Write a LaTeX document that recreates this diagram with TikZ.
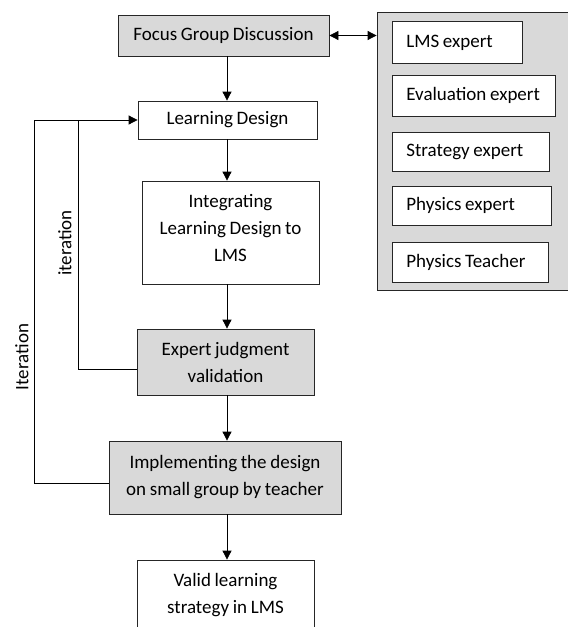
\documentclass[tikz,border=0pt]{standalone}
\usepackage{fontspec}
\setmainfont{Carlito}[WordSpace=0.85]
\usetikzlibrary{arrows.meta}

\begin{document}
\begin{tikzpicture}[x=1pt,y=-1pt,
  >={Triangle[length=9pt,width=9pt]},
  box/.style={draw=black!85,line width=0.8pt,fill=white,align=flush center,inner sep=0pt,
    font=\fontsize{19}{27}\selectfont},
  shaded/.style={box,fill=black!15},
  member/.style={box,anchor=west,align=flush left,inner xsep=0pt,
    execute at begin node={\hspace*{14pt}}}]
\clip (0,0) rectangle (568,627);
% main flow
\node[shaded,minimum width=211,minimum height=41] (fgd) at (223.5,35.5) {Focus Group Discussion};
\node[box,minimum width=179,minimum height=38] (ld) at (227.5,120) {Learning Design};
\node[box,text width=177,minimum height=103,text depth=63pt] (int) at (230.5,232.5) {Integrating\\Learning Design to\\LMS};
\node[shaded,text width=177,minimum height=66] (exp) at (225.5,362) {Expert judgment\\validation};
\node[shaded,text width=232,minimum height=73] (imp) at (225,477.5) {Implementing the design\\on small group by teacher};
\node[box,text width=177,minimum height=70] (val) at (225.5,595) {Valid learning\\strategy in LMS};
% experts panel
\node[fill=black!15,draw=black!85,line width=0.8pt,minimum width=200,minimum height=278] (panel) at (477,151) {};
\node[member,text width=130,minimum height=42] (lms) at (392,42.5) {LMS expert};
\node[member,text width=163,minimum height=41] (eval) at (392,95.5) {Evaluation expert};
\node[member,text width=157,minimum height=39] (strat) at (392,151.5) {Strategy expert};
\node[member,text width=159,minimum height=39] (phys) at (392,205.5) {Physics expert};
\node[member,text width=156,minimum height=40] (teach) at (392,262) {Physics Teacher};
% arrows
\coordinate (axis) at (227,0);
\coordinate (in) at (78,0);
\coordinate (out) at (34,0);
\draw[<->,line width=0.8pt] (fgd.east) -- (panel.west |- fgd.east);
\draw[->,line width=0.8pt] (fgd.south -| axis) -- (ld.north -| axis);
\draw[->,line width=0.8pt] (ld.south -| axis) -- (int.north -| axis);
\draw[->,line width=0.8pt] (int.south -| axis) -- (exp.north -| axis);
\draw[->,line width=0.8pt] (exp.south -| axis) -- (imp.north -| axis);
\draw[->,line width=0.8pt] (imp.south -| axis) -- (val.north -| axis);
% iteration loops
\draw[->,line width=0.8pt] ([yshift=-7pt]exp.west) -| (in |- ld.west) -- (ld.west);
\draw[line width=0.8pt] ([yshift=-6pt]imp.west) -| (out |- ld.west) -- (in |- ld.west);
\node[rotate=90,font=\fontsize{19}{27}\selectfont] (it1) at (65,243) {iteration};
\node[rotate=90,font=\fontsize{19}{27}\selectfont] (it2) at (22,357) {Iteration};
\end{tikzpicture}
\end{document}
